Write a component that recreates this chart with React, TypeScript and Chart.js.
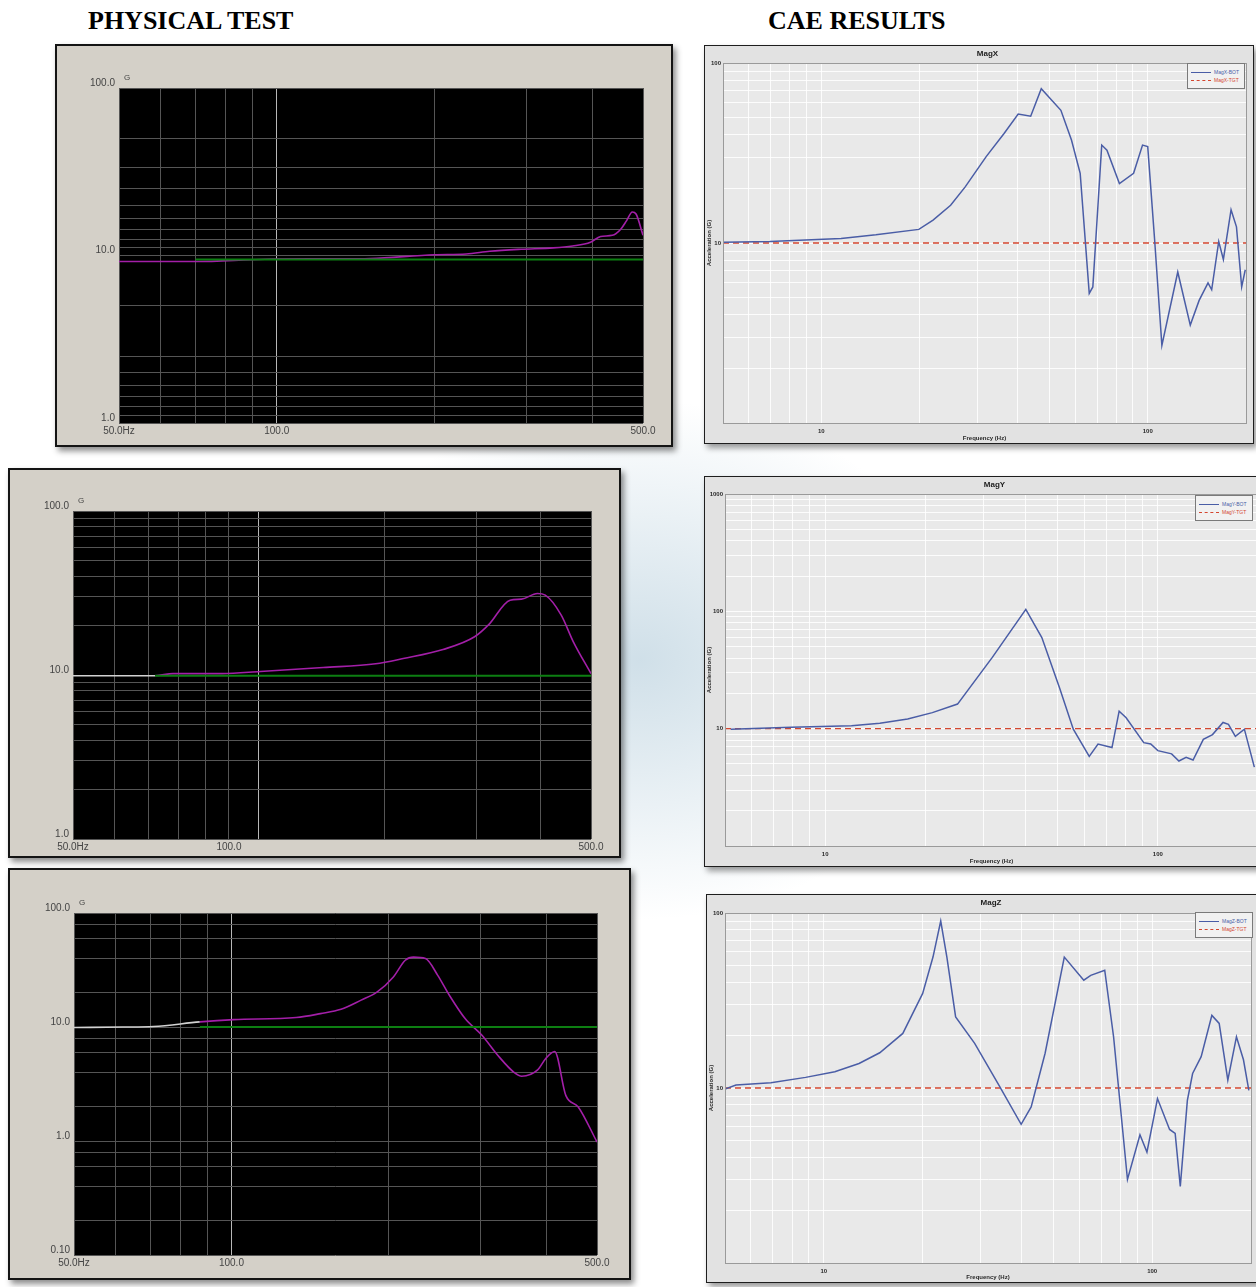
import React, { useEffect, useRef } from "react";
import { Chart, registerables } from "chart.js";

Chart.register(...registerables);

// ---------------- PHYSICAL TEST (left column) ----------------
// Row 1
const physXFreq = [50, 70, 95, 127, 151, 200, 230, 255, 293, 337, 367, 397, 415, 437, 453, 465, 477, 485, 500];
const physXAccel = [9.2, 9.2, 9.5, 9.55, 9.6, 10.1, 10.2, 10.6, 10.9, 11.1, 11.4, 12.0, 13.0, 13.2, 14.3, 16.1, 18.2, 17.7, 13.2];
const physXRef = [9.45, 9.45];
const physXRefFreq = [70, 500];
// Row 2
const physYFreq = [50, 72, 78, 97, 115, 152, 192, 217, 259, 298, 317, 349, 367, 394, 408, 438, 462, 500];
const physYAccel = [9.9, 9.9, 10.2, 10.2, 10.5, 11.1, 11.7, 12.6, 14.3, 17.1, 20.2, 28.6, 29, 31.4, 30.7, 23.2, 16, 10.2];
const physYRef = [9.9, 9.9];
const physYRefFreq = [72, 500];
// Row 3
const physZFreq = [50, 62, 71, 87, 101, 133, 148, 162, 177, 190, 204, 215, 223, 235, 248, 261, 280, 301, 323, 347, 359, 385, 399, 415, 436, 460, 500];
const physZAccel = [9.9, 10, 10.1, 11.1, 11.6, 12.1, 13.1, 14.3, 17.2, 20.3, 27.5, 38.5, 41, 39.8, 28.4, 19, 11.8, 8.5, 5.65, 4.0, 3.7, 4.2, 5.3, 6.1, 2.5, 2.0, 0.98];
const physZRef = [10, 10];
const physZRefFreq = [87, 500];

// grid / tick values
const physFreqGrid = [50, 60, 70, 80, 90, 100, 200, 300, 400, 500];
const physYFreqGrid = [50, 60, 70, 80, 90, 100, 114, 200, 300, 400, 500];
const physFreqLabels = [50, 100, 500];
const physXAccelGrid = [1, 1.11, 1.25, 1.43, 1.67, 2, 2.5, 5, 10, 11.1, 12.5, 14.3, 16.7, 20, 25, 33.3, 50, 100];
const physYAccelGrid = [1, 2, 3, 4, 5, 6, 7, 8, 9, 10, 20, 30, 40, 50, 60, 70, 80, 90, 100];
const physZAccelGrid = [0.1, 0.2, 0.4, 0.6, 0.8, 1, 2, 4, 6, 8, 10, 20, 40, 60, 80, 100];
const physAccelLabels = [0.1, 1, 10, 100];

// ---------------- CAE RESULTS (right column) ----------------
const caeXFreq = [4.97, 6.96, 11.5, 14.7, 19.9, 22, 24.9, 27.6, 32, 36.3, 40.1, 43.8, 47.2, 54.2, 58.4, 62.1, 66.2, 67.9, 72.3, 75, 81.9, 90.5, 96.4, 100, 105, 110.5, 123.6, 135, 143.7, 153, 157, 165, 170.5, 180, 187, 194, 199];
const caeXAccel = [10.1, 10.2, 10.6, 11.1, 11.9, 13.4, 16.2, 20.5, 30.2, 40.6, 52, 50.6, 72, 54.6, 37.3, 24.4, 5.25, 5.7, 35, 32.8, 21.4, 24.4, 35, 34.3, 10.4, 2.7, 6.9, 3.5, 4.8, 6.0, 5.5, 10.2, 8.1, 15.3, 12.3, 5.7, 7.1];
const caeYFreq = [5.2, 7.9, 12, 14.6, 17.7, 21, 25, 31.8, 40.1, 44.8, 50.6, 55.7, 62.2, 66.1, 72.8, 76.5, 80.3, 90.7, 95.2, 100, 110, 115.7, 121.6, 127.6, 137, 146, 157, 163, 171, 182, 195];
const caeYAccel = [9.9, 10.3, 10.6, 11.1, 12.1, 13.7, 16.2, 40.5, 104, 59.8, 22.4, 9.9, 5.8, 7.4, 6.9, 14.1, 12.4, 7.6, 7.4, 6.5, 6.1, 5.3, 5.7, 5.4, 8.1, 8.9, 11.3, 10.9, 8.6, 9.9, 4.7];
const caeZFreq = [5.0, 5.4, 6.9, 8.8, 10.8, 12.8, 14.8, 17.4, 20, 21.5, 22.7, 23.7, 25.2, 28.8, 34.3, 39.9, 42.8, 47.2, 54, 61.9, 65, 71.7, 76.3, 84.1, 91.8, 96.4, 103.8, 113, 117.5, 121.8, 128, 132.8, 141, 152, 160, 170, 180.6, 189.7, 197];
const caeZAccel = [9.87, 10.4, 10.7, 11.5, 12.4, 13.8, 15.9, 20.5, 34.7, 56, 90, 56, 25.5, 18, 10.2, 6.2, 7.8, 15.8, 56, 41.3, 44, 47.1, 19.6, 3.0, 5.4, 4.3, 8.7, 5.8, 5.5, 2.74, 8.5, 12.1, 15.1, 26, 23.4, 11.1, 19.6, 14.5, 9.7];
const caeRefLevel = [10, 10];
const caeRefFreq = [5, 200];

const caeFreqGrid = [5, 6, 7, 8, 9, 10, 20, 30, 40, 50, 60, 70, 80, 90, 100, 200];
const caeFreqLabels = [10, 100];
const caeAccelGrid2 = [1, 2, 3, 4, 5, 6, 7, 8, 9, 10, 20, 30, 40, 50, 60, 70, 80, 90, 100];
const caeAccelGrid3 = [1, 2, 3, 4, 5, 6, 7, 8, 9, 10, 20, 30, 40, 50, 60, 70, 80, 90, 100, 200, 300, 400, 500, 600, 700, 800, 900, 1000];
const caeAccelLabels = [10, 100, 1000];

function toPoints(xs: number[], ys: number[]) {
  return xs.map((x, i) => ({ x, y: ys[i] }));
}

function areaPlugin(fill: string, stroke: string | null) {
  return {
    id: "areaBg",
    beforeDraw(chart: any) {
      const { ctx, chartArea: a } = chart;
      ctx.save();
      ctx.fillStyle = fill;
      ctx.fillRect(a.left, a.top, a.right - a.left, a.bottom - a.top);
      ctx.restore();
    },
    afterDraw(chart: any) {
      if (!stroke) return;
      const { ctx, chartArea: a } = chart;
      ctx.save();
      ctx.strokeStyle = stroke;
      ctx.lineWidth = 1;
      ctx.strokeRect(Math.round(a.left) + 0.5, Math.round(a.top) + 0.5, Math.round(a.right - a.left), Math.round(a.bottom - a.top));
      ctx.restore();
    },
  };
}

type PhysProps = {
  x: number; y: number; w: number; h: number;
  pl: number; pt: number; pr: number; pb: number;
  freq: number[]; accel: number[]; refFreq: number[]; ref: number[];
  yMin: number; yGrid: number[]; xGrid: number[]; brightX: number; grayUntil: number;
};

function PhysicalPanel(p: PhysProps) {
  const ref = useRef<HTMLCanvasElement>(null);
  const cw = p.w - 4, ch = p.h - 4;
  const ox = p.x + 2, oy = p.y + 2;
  useEffect(() => {
    const yW = p.pl - ox;
    const xH = oy + ch - p.pb;
    const padTop = p.pt - oy;
    const padRight = ox + cw - p.pr;
    const tickFont = { family: "'Liberation Sans', Arial, sans-serif", size: 10 };
    const chart = new Chart(ref.current as HTMLCanvasElement, {
      type: "line",
      data: {
        datasets: [
          {
            label: "Reference",
            data: toPoints(p.refFreq, p.ref),
            borderColor: "#0d7f12",
            borderWidth: 2,
            pointRadius: 0,
          },
          {
            label: "Response",
            data: toPoints(p.freq, p.accel),
            borderColor: "#a31fa8",
            borderWidth: 1.6,
            pointRadius: 0,
            cubicInterpolationMode: "monotone",
            segment: {
              borderColor: (c: any) => (c.p1.parsed.x <= p.grayUntil ? "#d2d2d2" : undefined),
            },
          },
        ],
      } as any,
      options: {
        responsive: false,
        animation: false,
        events: [],
        layout: { padding: { top: padTop, right: padRight, left: 0, bottom: 0 } },
        plugins: { legend: { display: false }, tooltip: { enabled: false } },
        scales: {
          x: {
            type: "logarithmic",
            min: 50,
            max: 500,
            afterBuildTicks: (s: any) => { s.ticks = p.xGrid.map((v) => ({ value: v })); },
            afterFit: (s: any) => { s.height = xH; },
            grid: {
              color: (c: any) => (c.tick && c.tick.value === p.brightX ? "#b8b8b8" : "#555555"),
              lineWidth: 1,
              drawTicks: false,
            },
            border: { display: false },
            ticks: {
              autoSkip: false,
              maxRotation: 0,
              padding: 2,
              color: "#444444",
              font: tickFont,
              callback: (v: any) => {
                const n = Number(v);
                if (!physFreqLabels.includes(n)) return "";
                return n === 50 ? "50.0Hz" : n.toFixed(1);
              },
            },
          },
          y: {
            type: "logarithmic",
            min: p.yMin,
            max: 100,
            afterBuildTicks: (s: any) => { s.ticks = p.yGrid.map((v) => ({ value: v })); },
            afterFit: (s: any) => { s.width = yW; },
            grid: { color: "#555555", lineWidth: 1, drawTicks: false },
            border: { display: false },
            ticks: {
              autoSkip: false,
              padding: 4,
              labelOffset: -5,
              color: "#444444",
              font: tickFont,
              callback: (v: any) => {
                const n = Number(v);
                if (!physAccelLabels.includes(n)) return "";
                return n >= 1 ? n.toFixed(1) : n.toFixed(2);
              },
            },
          },
        },
      } as any,
      plugins: [areaPlugin("#000000", null)],
    });
    return () => chart.destroy();
  }, []);
  return (
    <div
      style={{
        position: "absolute", left: p.x, top: p.y, width: p.w, height: p.h,
        boxSizing: "border-box", background: "#d4d0c8", border: "2px solid #141414",
        boxShadow: "3px 4px 6px rgba(0,0,0,0.45)",
      }}
    >
      <canvas ref={ref} width={cw} height={ch} style={{ position: "absolute", left: 0, top: 0, width: cw, height: ch }} />
      <span
        style={{
          position: "absolute", left: p.pl - ox + 5, top: p.pt - oy - 15,
          fontFamily: "'Liberation Sans', Arial, sans-serif", fontSize: 8, color: "#444444",
        }}
      >
        G
      </span>
    </div>
  );
}

type CaeProps = {
  x: number; y: number; w: number; h: number;
  pl: number; pt: number; pr: number; pb: number;
  title: string; legend: string[];
  freq: number[]; accel: number[]; yMax: number; yGrid: number[];
  legX: number; legY: number;
};

const blue = "#4a5da6";
const red = "#d4462f";

function CaePanel(p: CaeProps) {
  const ref = useRef<HTMLCanvasElement>(null);
  const cw = p.w - 2, ch = p.h - 2;
  const ox = p.x + 1, oy = p.y + 1;
  useEffect(() => {
    const yW = p.pl - ox;
    const xH = oy + ch - p.pb;
    const padTop = p.pt - oy;
    const padRight = ox + cw - p.pr;
    const small = { family: "'Liberation Sans', Arial, sans-serif", size: 6, weight: "bold" as const };
    const chart = new Chart(ref.current as HTMLCanvasElement, {
      type: "line",
      data: {
        datasets: [
          {
            label: p.legend[0],
            data: toPoints(p.freq, p.accel),
            borderColor: blue,
            borderWidth: 1.5,
            pointRadius: 0,
            tension: 0,
          },
          {
            label: p.legend[1],
            data: toPoints(caeRefFreq, caeRefLevel),
            borderColor: red,
            borderWidth: 1.3,
            borderDash: [6, 4],
            pointRadius: 0,
          },
        ],
      } as any,
      options: {
        responsive: false,
        animation: false,
        events: [],
        layout: { padding: { top: padTop, right: padRight, left: 0, bottom: 0 } },
        plugins: { legend: { display: false }, tooltip: { enabled: false } },
        scales: {
          x: {
            type: "logarithmic",
            min: 5,
            max: 200,
            afterBuildTicks: (s: any) => { s.ticks = caeFreqGrid.map((v) => ({ value: v })); },
            afterFit: (s: any) => { s.height = xH; },
            grid: { color: "rgba(255,255,255,0.85)", lineWidth: 1, drawTicks: false },
            border: { display: true, color: "#6e6e6e", width: 1 },
            ticks: {
              autoSkip: false,
              maxRotation: 0,
              padding: 5,
              color: "#2a2a2a",
              font: small,
              callback: (v: any) => (caeFreqLabels.includes(Number(v)) ? String(v) : ""),
            },
            title: { display: true, text: "Frequency (Hz)", color: "#2a2a2a", font: { ...small, size: 6 }, padding: { top: 0, bottom: 1 } },
          },
          y: {
            type: "logarithmic",
            min: 1,
            max: p.yMax,
            afterBuildTicks: (s: any) => { s.ticks = p.yGrid.map((v) => ({ value: v })); },
            afterFit: (s: any) => { s.width = yW; },
            grid: { color: "rgba(255,255,255,0.85)", lineWidth: 1, drawTicks: false },
            border: { display: true, color: "#6e6e6e", width: 1 },
            ticks: {
              autoSkip: false,
              padding: 2,
              color: "#2a2a2a",
              font: small,
              callback: (v: any) => (caeAccelLabels.includes(Number(v)) && Number(v) <= p.yMax ? String(v) : ""),
            },
            title: { display: true, text: "Acceleration (G)", color: "#2a2a2a", font: { ...small, size: 6 }, padding: { top: 1, bottom: 0 } },
          },
        },
      } as any,
      plugins: [areaPlugin("#e9e9e9", "#9a9a9a")],
    });
    return () => chart.destroy();
  }, []);
  const font = "'Liberation Sans', Arial, sans-serif";
  return (
    <>
      <div
        style={{
          position: "absolute", left: p.x, top: p.y, width: p.w, height: p.h,
          boxSizing: "border-box", background: "#e2e2e2", border: "1px solid #1e1e1e",
          boxShadow: "3px 4px 6px rgba(0,0,0,0.4)",
        }}
      >
        <canvas ref={ref} width={cw} height={ch} style={{ position: "absolute", left: 0, top: 0, width: cw, height: ch }} />
        <div
          style={{
            position: "absolute", left: (p.pl + p.pr) / 2 - ox - 40 + 3, top: 3, width: 80, textAlign: "center",
            fontFamily: font, fontSize: 8, fontWeight: "bold", color: "#222", lineHeight: "10px",
          }}
        >
          {p.title}
        </div>
      </div>
      <div
        style={{
          position: "absolute", left: p.legX, top: p.legY, width: 58, height: 26, boxSizing: "border-box",
          border: "1px solid #7a7a7a", background: "#f1f1f1", fontFamily: font, fontSize: 5, padding: "4px 3px",
        }}
      >
        <div style={{ display: "flex", alignItems: "center", height: 8 }}>
          <span style={{ display: "inline-block", width: 20, borderTop: `1px solid ${blue}`, marginRight: 3 }} />
          <span style={{ color: blue }}>{p.legend[0]}</span>
        </div>
        <div style={{ display: "flex", alignItems: "center", height: 8 }}>
          <span style={{ display: "inline-block", width: 20, borderTop: `1px dashed ${red}`, marginRight: 3 }} />
          <span style={{ color: red }}>{p.legend[1]}</span>
        </div>
      </div>
    </>
  );
}

export default function App() {
  const heading = {
    position: "absolute" as const, top: 8, fontFamily: "'Liberation Serif', 'Times New Roman', serif",
    fontWeight: "bold" as const, fontSize: 26, lineHeight: "26px", color: "#000",
  };
  return (
    <div style={{ position: "absolute", left: 0, top: 0, width: 1256, height: 1287, overflow: "hidden", background: "#ffffff" }}>
      <div
        style={{
          position: "absolute", left: 0, top: 0, width: 1256, height: 1287,
          background:
            "radial-gradient(ellipse 330px 260px at 640px 660px, rgba(150,185,205,0.45), rgba(255,255,255,0) 100%)",
        }}
      />
      <div style={{ ...heading, left: 88 }}>PHYSICAL TEST</div>
      <div style={{ ...heading, left: 768 }}>CAE RESULTS</div>

      <PhysicalPanel
        x={55} y={44} w={618} h={403} pl={119} pt={88} pr={643} pb={423}
        freq={physXFreq} accel={physXAccel} refFreq={physXRefFreq} ref={physXRef}
        yMin={1} yGrid={physXAccelGrid} xGrid={physFreqGrid} brightX={100} grayUntil={0}
      />
      <PhysicalPanel
        x={8} y={468} w={613} h={390} pl={73} pt={511} pr={591} pb={839}
        freq={physYFreq} accel={physYAccel} refFreq={physYRefFreq} ref={physYRef}
        yMin={1} yGrid={physYAccelGrid} xGrid={physYFreqGrid} brightX={114} grayUntil={72}
      />
      <PhysicalPanel
        x={8} y={868} w={623} h={412} pl={74} pt={913} pr={597} pb={1255}
        freq={physZFreq} accel={physZAccel} refFreq={physZRefFreq} ref={physZRef}
        yMin={0.1} yGrid={physZAccelGrid} xGrid={physFreqGrid} brightX={100} grayUntil={87}
      />

      <CaePanel
        x={704} y={45} w={550} h={399} pl={723} pt={63} pr={1246} pb={423}
        title="MagX" legend={["MagX-BOT", "MagX-TGT"]} freq={caeXFreq} accel={caeXAccel}
        yMax={100} yGrid={caeAccelGrid2} legX={1187} legY={63}
      />
      <CaePanel
        x={704} y={476} w={562} h={391} pl={725} pt={494} pr={1258} pb={846}
        title="MagY" legend={["MagY-BOT", "MagY-TGT"]} freq={caeYFreq} accel={caeYAccel}
        yMax={1000} yGrid={caeAccelGrid3} legX={1195} legY={495}
      />
      <CaePanel
        x={706} y={894} w={556} h={389} pl={725} pt={913} pr={1251} pb={1263}
        title="MagZ" legend={["MagZ-BOT", "MagZ-TGT"]} freq={caeZFreq} accel={caeZAccel}
        yMax={100} yGrid={caeAccelGrid2} legX={1195} legY={912}
      />
    </div>
  );
}
